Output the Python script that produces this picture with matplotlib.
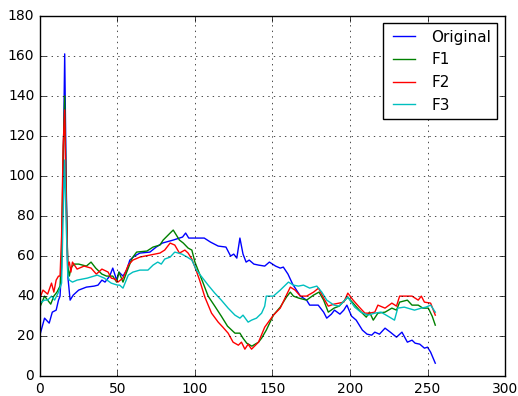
import matplotlib
matplotlib.use('Agg')
import matplotlib.pyplot as plt

# values
x_orig = [0, 3, 6, 8, 10.5, 12, 13, 14, 15, 16, 17, 18, 19.5, 21.5, 25, 30, 35, 37.5, 40, 42, 45, 47,
          49.5, 51, 53.6, 56, 58, 61, 64.5, 71, 75, 79, 86, 92, 94, 96, 100, 104, 106, 110, 115, 120,
          123, 125, 127, 129, 131, 133, 135, 138, 141, 145, 148, 150, 152, 155, 157, 160, 163, 168,
          172, 174, 179.5, 183, 185, 188, 190, 193.5, 196, 198, 201, 204, 208, 211, 214, 216, 219,
          222.6, 226, 230, 233.5, 237, 240, 242, 245, 248, 250, 252, 255]
y_orig = [20.5, 29, 26.5, 32, 33, 38, 40, 55, 100, 161, 95, 50, 38, 40.5, 43, 44.5, 45, 45.5, 48, 47,
          50, 54, 48, 52, 50, 53, 58, 60, 61.5, 62, 64.5, 66.5, 68, 69.5, 71.5, 69, 69, 69, 69, 67,
          65, 64.5, 60, 61, 59, 69, 61, 57, 58, 56, 55.5, 55, 57, 56, 55, 54, 54.5, 51, 46, 40, 38,
          35.5, 35.5, 32, 29, 31, 33, 31, 33, 35.5, 30, 28, 23, 21, 20.5, 22, 21, 24, 22, 19.5, 22,
          17, 18, 16.5, 16, 14, 14.5, 12, 6.5]

x_f1 = [0, 3, 5, 7, 9, 11, 13, 14, 15, 16, 17, 18, 19, 20, 22, 25, 30, 33, 36, 40, 43, 47, 49.5, 51,
        53.6, 56, 59.5, 62.4, 69, 73, 77.4, 79.5, 84, 86, 90, 92.5, 95.6, 98, 100, 102, 105.3, 108.5,
        112.8, 117, 121, 125.8, 129, 131, 133.4, 136.7, 141, 143, 146, 150.6, 155, 159, 161.5, 163.5,
        167, 172, 176.5, 180, 183, 186, 189.7, 193, 198.6, 202, 206, 210.5, 212.6, 215, 218, 222.6,
        227, 230, 232, 237, 240, 244, 247, 250.5, 253, 255]
y_f1 = [34.5, 40, 38, 36, 40, 42, 45, 60, 110, 140, 90, 55, 50, 54, 56, 56, 55, 57, 54, 51, 50, 50,
        47, 52, 47, 52, 59, 62, 62.5, 64.5, 65.5, 68, 71.5, 73, 68, 66.5, 64, 63, 57, 53, 46.5, 40,
        35, 30, 25, 21.5, 21.5, 19, 16.5, 15, 17, 19, 23, 30.5, 34.5, 39.5, 42, 40, 39, 38, 40.5, 42,
        38, 32, 34, 35, 39.5, 36.5, 33, 29.5, 32, 28, 31.5, 32, 34, 33, 37, 38, 35.5, 35.5, 34, 34,
        30, 25.5]

x_f2 = [0, 2, 5, 7.5, 9, 10.5, 12, 13, 14, 15, 16, 17, 18, 19, 20, 21, 24, 28.5, 33, 36.4, 40, 44,
        46, 48.5, 50.3, 53.6, 57, 60, 64.5, 71, 77.4, 80.5, 84, 87, 90, 93.5, 95.6, 98, 100, 103,
        106.4, 110.7, 115, 118, 121.4, 124.6, 128, 130, 132.2, 134.3, 136.5, 141, 145, 150.6, 155,
        159, 161.5, 164.6, 168, 172, 176.5, 179.7, 183, 186, 189.7, 193, 196, 198.6, 202, 206, 209.6,
        212.6, 216, 218, 222.6, 227, 230, 232, 240, 244, 246, 248, 252, 255]
y_f2 = [39, 43, 41, 46.5, 42, 48, 50, 50, 70, 115, 133, 85, 55, 57, 52, 57, 53.5, 55, 54, 51, 53.5,
        52, 49, 48.5, 47, 49, 55.5, 58, 59.5, 60.5, 61.5, 63, 66.5, 65.5, 61.5, 63, 61.5, 58.5, 54.5,
        48, 39.5, 31.5, 27, 24.5, 21.5, 17, 15.5, 17, 13.5, 16, 13.5, 17, 24.5, 30.5, 34, 40.5, 44.5,
        43, 40, 40, 42, 44, 39, 35, 36, 36.5, 37, 41.5, 38, 34.5, 31.5, 31.5, 32, 35.5, 34, 36.5, 35,
        40, 40, 38, 40, 37, 36.5, 30.5]

x_f3 = [0, 3, 5, 7.5, 9.5, 12, 14, 15, 16, 17, 18, 19, 21, 24, 30.6, 37, 41.5, 46, 50, 51.4, 53.6,
        57, 60, 64.5, 69.7, 73, 76, 78.3, 80.5, 84, 87, 91.5, 95, 98, 101, 104, 108.5, 112.8, 117,
        121.4, 125.8, 129, 131, 134.3, 136.5, 139.7, 143, 145, 146, 150.6, 155, 160.3, 163.5, 166.7,
        170, 174, 178.6, 181.8, 185, 189.7, 193, 198.6, 203, 207, 211.5, 216, 220, 225.5, 228.7,
        230.8, 235, 241.6, 246, 249, 252, 255]
y_f3 = [36.5, 38, 38, 40, 38, 42, 46.5, 80, 108, 75, 50, 48, 47, 48, 49, 50.5, 49, 46.5, 45.5, 45.5,
        44, 50.5, 52, 53, 53, 55.5, 57, 56, 58.5, 59.5, 62, 61, 59.5, 58, 53, 50, 45.5, 41.5, 38, 34,
        30.5, 29, 30.5, 27, 28, 29, 31.5, 35, 40, 40, 43, 47, 45.5, 45, 45.5, 44, 45, 42, 38, 35.5,
        35, 39.5, 34.5, 32, 30.5, 31.5, 32, 29.5, 28, 34, 34.5, 33, 34, 34.5, 35.5, 32]

plt.style.use('classic')
plt.rcParams['font.size'] = 10

fig = plt.figure(figsize=(5.18, 3.96), dpi=100)
fig.subplots_adjust(left=0.077, right=0.975, bottom=0.05, top=0.96)
ax = fig.add_subplot(111)

ax.plot(x_orig, y_orig, color='b', lw=1.0, label='Original')
ax.plot(x_f1, y_f1, color='g', lw=1.0, label='F1')
ax.plot(x_f2, y_f2, color='r', lw=1.0, label='F2')
ax.plot(x_f3, y_f3, color='c', lw=1.0, label='F3')

ax.set_xlim(0, 300)
ax.set_ylim(0, 180)
ax.tick_params(labelsize=10)
ax.grid(True)
ax.legend(loc='upper right', fontsize=11)

fig.savefig('out.png', dpi=100)
